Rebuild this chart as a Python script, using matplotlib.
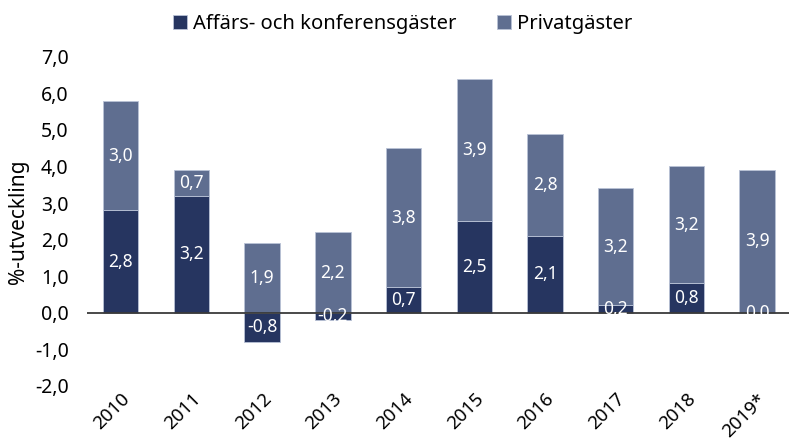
import matplotlib
matplotlib.use("Agg")
import matplotlib.pyplot as plt
import numpy as np

years = ["2010", "2011", "2012", "2013", "2014", "2015", "2016", "2017", "2018", "2019*"]
affars = [2.8, 3.2, -0.8, -0.2, 0.7, 2.5, 2.1, 0.2, 0.8, 0.0]
privat = [3.0, 0.7, 1.9, 2.2, 3.8, 3.9, 2.8, 3.2, 3.2, 3.9]
yticks = [-2, -1, 0, 1, 2, 3, 4, 5, 6, 7]

plt.rcParams['font.family'] = ['Noto Sans', 'DejaVu Sans']
dark = "#263560"
light = "#5f6e90"
edge = "#b9c2d6"

fig = plt.figure(figsize=(7.89, 4.44), dpi=100)
ax = fig.add_axes([0.110, 0.131, 0.89, 0.741])

x = np.arange(len(years))
aff = np.array(affars)
pri = np.array(privat)
bottom_p = np.where(aff > 0, aff, 0)

ax.bar(x, aff, width=0.5, color=dark, edgecolor=edge, linewidth=0.6,
       label="Affärs- och konferensgäster", zorder=2)
ax.bar(x, pri, width=0.5, bottom=bottom_p, color=light, edgecolor=edge, linewidth=0.6,
       label="Privatgäster", zorder=2)

def fmt(v):
    return f"{v:.1f}".replace(".", ",")

for xi, a, p, b in zip(x, aff, pri, bottom_p):
    ax.text(xi, a / 2, fmt(a), ha='center', va='center', color='white', fontsize=12.5, zorder=4)
    ax.text(xi, b + p / 2, fmt(p), ha='center', va='center', color='white', fontsize=12.5, zorder=4)

ax.axhline(0, color="#3a3a3a", linewidth=1.3, zorder=3)
ax.set_ylim(-2, 7)
ax.set_xlim(-0.48, 9.45)
ax.set_yticks(yticks)
ax.set_yticklabels([fmt(v) for v in yticks], fontsize=14)
ax.set_xticks(x)
ax.set_xticklabels(years, fontsize=13.5, rotation=45, ha='right', rotation_mode='anchor')
ax.tick_params(axis='both', length=0, colors='black')
ax.tick_params(axis='y', pad=13)
ax.tick_params(axis='x', pad=3)
for s in ax.spines.values():
    s.set_visible(False)
ax.set_ylabel("%-utveckling", fontsize=15, labelpad=4)

fig.legend(loc='upper center', bbox_to_anchor=(0.51, 1.01), ncol=2, frameon=False,
           fontsize=14.5, handlelength=0.7, handleheight=0.7, handletextpad=0.3,
           columnspacing=2.0)

fig.savefig("out.png", dpi=100)
